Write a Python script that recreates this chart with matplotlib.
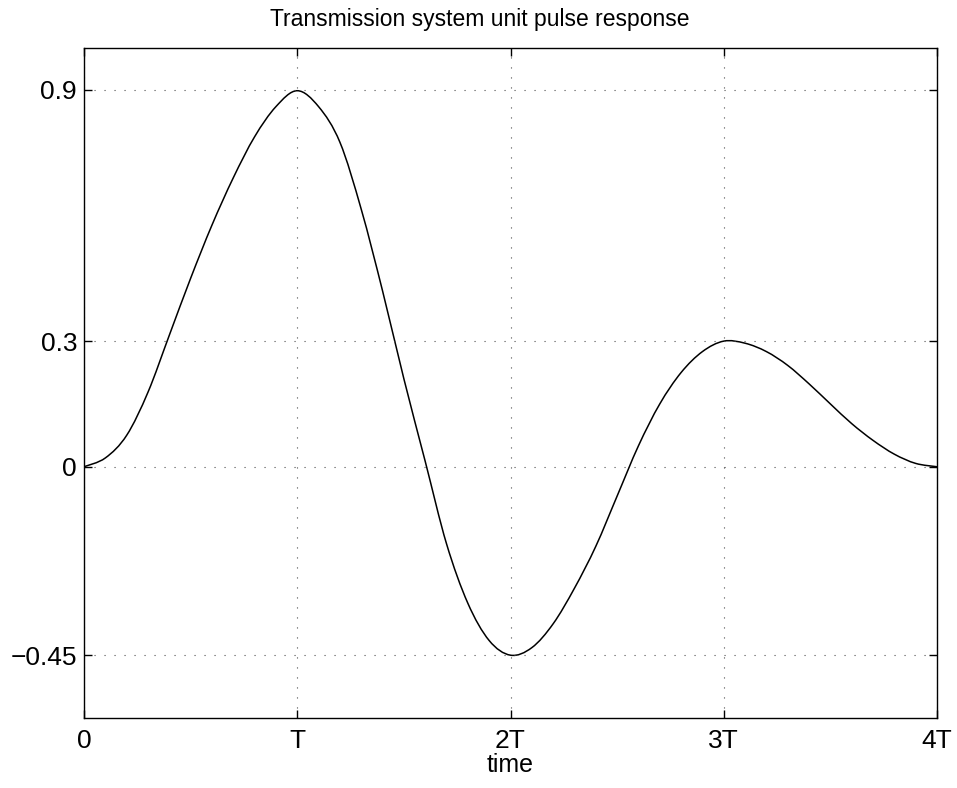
import numpy as np
import matplotlib
matplotlib.use("Agg")
from matplotlib import pyplot as plt
from matplotlib.path import Path
from matplotlib.patches import PathPatch

# time axis in units of T, response values
t = [0.0, 0.1, 0.2, 0.3, 0.4, 0.5, 0.6, 0.7, 0.8, 0.9,
     1.0, 1.1, 1.2, 1.3, 1.4, 1.5, 1.6, 1.7, 1.8, 1.9,
     2.0, 2.1, 2.2, 2.3, 2.4, 2.5, 2.6, 2.7, 2.8, 2.9,
     3.0, 3.1, 3.2, 3.3, 3.4, 3.5, 3.6, 3.7, 3.8, 3.9, 4.0]
response = [0.0, 0.021, 0.075, 0.178, 0.314, 0.45, 0.577, 0.69, 0.788, 0.86,
            0.898, 0.86, 0.775, 0.615, 0.42, 0.21, 0.013, -0.184, -0.326, -0.415,
            -0.45, -0.432, -0.375, -0.29, -0.19, -0.07, 0.05, 0.15, 0.225, 0.275,
            0.30, 0.295, 0.275, 0.242, 0.198, 0.15, 0.103, 0.063, 0.03, 0.008, 0.0]

xtick_pos = [0, 1, 2, 3, 4]
xtick_labels = ['0', 'T', '2T', '3T', '4T']
ytick_pos = [-0.45, 0, 0.3, 0.9]
ytick_labels = ['\u22120.45', '0', '0.3', '0.9']

plt.rcParams['font.family'] = ['Liberation Sans', 'DejaVu Sans']

fig = plt.figure(figsize=(9.57, 7.88), dpi=100, facecolor='white')
ax = fig.add_axes([84 / 957, 70 / 788, 853 / 957, 670 / 788])

# smooth curve through the read points (Catmull-Rom -> cubic Bezier)
p = np.column_stack([t, response])
ext = np.vstack([p[0], p, p[-1]])
verts = [p[0]]
codes = [Path.MOVETO]
for i in range(len(p) - 1):
    p0, p1, p2, p3 = ext[i], ext[i + 1], ext[i + 2], ext[i + 3]
    verts += [p1 + (p2 - p0) / 6, p2 - (p3 - p1) / 6, p2]
    codes += [Path.CURVE4] * 3
ax.add_patch(PathPatch(Path(verts, codes), facecolor='none',
                       edgecolor='black', linewidth=1.1))

ax.set_xlim(0, 4)
ax.set_ylim(-0.6, 1.0)
ax.set_xticks(xtick_pos)
ax.set_xticklabels(xtick_labels)
ax.set_yticks(ytick_pos)
ax.set_yticklabels(ytick_labels)

ax.tick_params(direction='in', length=6, width=1, top=True, right=True,
               labelsize=19, colors='black')
ax.tick_params(axis='x', pad=8)
ax.tick_params(axis='y', pad=5)

ax.grid(True, color='0.3', linewidth=0.8, linestyle=(0, (1, 8)))
for s in ax.spines.values():
    s.set_linewidth(1.0)
    s.set_color('black')

ax.set_title('Transmission system unit pulse response', fontsize=16.5,
             pad=16, x=0.464)
ax.set_xlabel('time', fontsize=18, labelpad=0)

fig.savefig('out.png', dpi=100)
